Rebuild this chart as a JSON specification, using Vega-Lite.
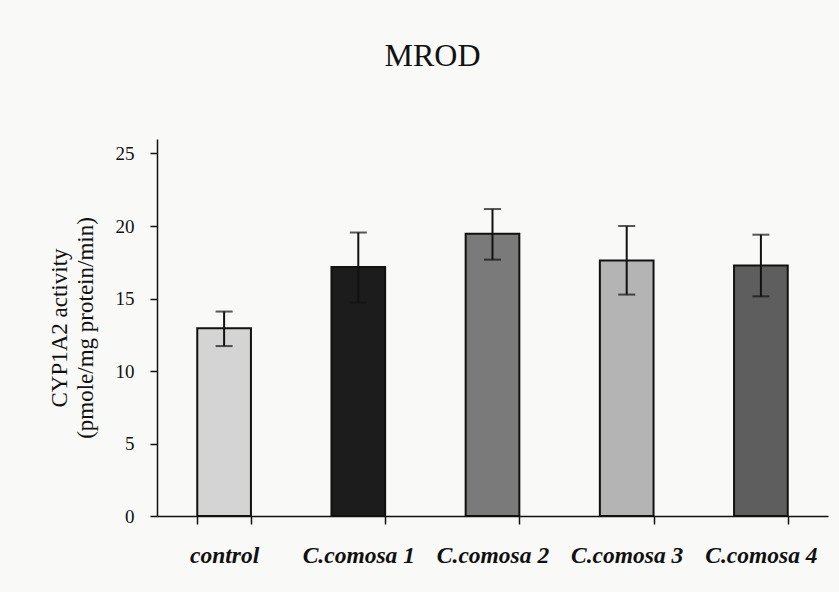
{
  "$schema": "https://vega.github.io/schema/vega-lite/v6.json",
  "width": 671,
  "height": 377,
  "autosize": {"type": "none"},
  "padding": {"left": 157, "top": 139, "right": 11, "bottom": 76},
  "background": "#f9f9f8",
  "title": {
    "text": "MROD",
    "font": "Liberation Serif",
    "fontSize": 32,
    "fontWeight": "normal",
    "color": "#111",
    "anchor": "middle",
    "dx": -60,
    "offset": 66
  },
  "data": {
    "values": [
      {"group": "control", "mean": 12.95, "lo": 11.72, "hi": 14.1},
      {"group": "C.comosa 1", "mean": 17.18, "lo": 14.72, "hi": 19.55},
      {"group": "C.comosa 2", "mean": 19.47, "lo": 17.68, "hi": 21.17},
      {"group": "C.comosa 3", "mean": 17.62, "lo": 15.27, "hi": 20.0},
      {"group": "C.comosa 4", "mean": 17.28, "lo": 15.15, "hi": 19.4}
    ]
  },
  "encoding": {
    "x": {
      "field": "group",
      "type": "nominal",
      "sort": null,
      "scale": {"paddingInner": 0.6, "paddingOuter": 0.3},
      "axis": {
        "title": null,
        "labelAngle": 0,
        "labelFont": "Liberation Serif",
        "labelFontSize": 23.5,
        "labelFontStyle": "italic",
        "labelFontWeight": "bold",
        "labelColor": "#111",
        "labelPadding": 19,
        "tickBand": "extent",
        "tickSize": 8,
        "tickColor": "#111",
        "tickWidth": 1.5,
        "domainColor": "#111",
        "domainWidth": 1.5
      }
    }
  },
  "layer": [
    {
      "mark": {"type": "bar", "stroke": "#111", "strokeWidth": 2},
      "encoding": {
        "y": {
          "field": "mean",
          "type": "quantitative",
          "scale": {"domain": [0, 25]},
          "axis": {
            "title": ["CYP1A2 activity", "(pmole/mg protein/min)"],
            "titleFont": "Liberation Serif",
            "titleFontSize": 23,
            "titleFontWeight": "normal",
            "titleColor": "#111",
            "titleLineHeight": 26,
            "titlePadding": 18,
            "values": [0, 5, 10, 15, 20, 25],
            "grid": false,
            "labelFont": "Liberation Serif",
            "labelFontSize": 19,
            "labelColor": "#111",
            "labelPadding": 16,
            "tickSize": 7,
            "tickColor": "#111",
            "tickWidth": 1.5,
            "domainColor": "#111",
            "domainWidth": 1.5
          }
        },
        "fill": {
          "field": "group",
          "type": "nominal",
          "sort": null,
          "scale": {"range": ["#d4d4d4", "#1c1c1c", "#7a7a7a", "#b4b4b4", "#5e5e5e"]},
          "legend": null
        }
      }
    },
    {
      "mark": {"type": "rule", "color": "#111", "strokeWidth": 2},
      "encoding": {
        "y": {"field": "lo", "type": "quantitative"},
        "y2": {"field": "hi"}
      }
    },
    {
      "mark": {"type": "tick", "color": "#111", "thickness": 2, "size": 17, "orient": "horizontal"},
      "encoding": {
        "y": {"field": "hi", "type": "quantitative"}
      }
    },
    {
      "mark": {"type": "tick", "color": "#111", "thickness": 2, "size": 17, "orient": "horizontal"},
      "encoding": {
        "y": {"field": "lo", "type": "quantitative"}
      }
    }
  ],
  "config": {
    "view": {"stroke": null}
  }
}
